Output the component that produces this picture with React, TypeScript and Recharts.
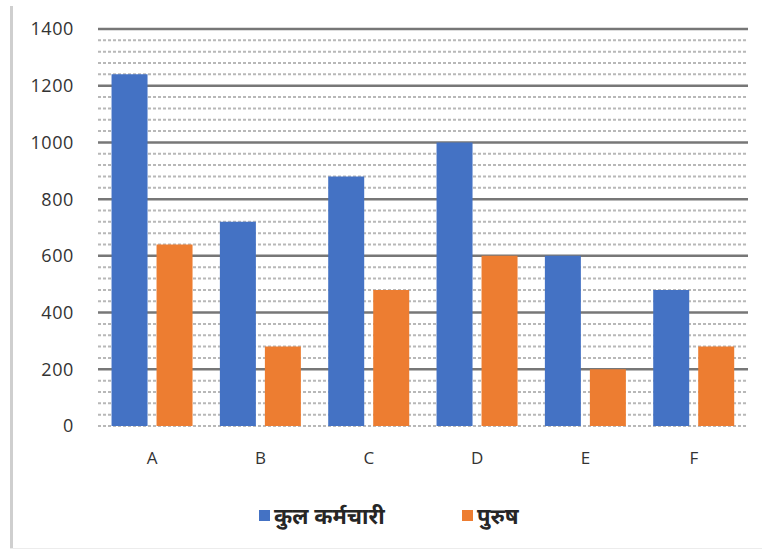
import React from 'react';
import { BarChart, Bar, XAxis, YAxis, CartesianGrid, Legend } from 'recharts';

const categories = ['A', 'B', 'C', 'D', 'E', 'F'];
const totalEmployees = [1240, 720, 880, 1000, 600, 480];
const men = [640, 280, 480, 600, 200, 280];
const yDomain = [0, 1400];
const yTicks = [0, 200, 400, 600, 800, 1000, 1200, 1400];
const majorGridTicks = [200, 400, 600, 800, 1000, 1200, 1400];
const minorGridTicks = [
  0, 40, 80, 120, 160, 240, 280, 320, 360, 440, 480, 520, 560, 640, 680, 720, 760,
  840, 880, 920, 960, 1040, 1080, 1120, 1160, 1240, 1280, 1320, 1360,
];

const data = categories.map((name, i) => ({
  name,
  total: totalEmployees[i],
  men: men[i],
}));

const BLUE = '#4472C4';
const ORANGE = '#ED7D31';

const legendItems = [
  { label: 'कुल कर्मचारी', color: BLUE, width: 203 },
  { label: 'पुरुष', color: ORANGE, width: 80 },
];

const renderLegend = () => (
  <div style={{ display: 'flex', paddingLeft: 259, paddingTop: 34 }}>
    {legendItems.map((item) => (
      <div key={item.label} style={{ display: 'flex', alignItems: 'center', width: item.width }}>
        <span style={{ width: 11, height: 11, background: item.color, marginRight: 4 }} />
        <span
          style={{
            fontFamily: '"Noto Sans", sans-serif',
            fontSize: 22,
            fontWeight: 700,
            color: '#262626',
          }}
        >
          {item.label}
        </span>
      </div>
    ))}
  </div>
);

const yTickStyle = { fill: '#333', fontSize: 18, letterSpacing: 0.6, fontFamily: '"Open Sans", sans-serif' };
const xTickStyle = { fill: '#333', fontSize: 17, fontFamily: '"Open Sans", sans-serif' };

// map grid values onto the plot area of the value axis
const gridFrom = (values: number[]) => (props: any) => {
  const scale = props?.yAxis?.scale;
  if (typeof scale === 'function') return values.map((v) => scale(v));
  if (scale && typeof scale.map === 'function') return values.map((v) => scale.map(v));
  const { top, height } = props.offset;
  const [lo, hi] = yDomain;
  return values.map((v) => top + height * (1 - (v - lo) / (hi - lo)));
};

export default function App() {
  return (
    <div style={{ position: 'absolute', left: 0, top: 0, width: 762, height: 550, background: '#fff' }}>
      <div
        style={{
          position: 'absolute',
          left: 10,
          top: 6,
          width: 3,
          height: 543,
          background: '#cfcfcf',
        }}
      />
      <div style={{ position: 'absolute', left: 10, top: 548, width: 752, height: 1, background: '#ececec' }} />
      <BarChart
        width={762}
        height={550}
        data={data}
        margin={{ top: 29, right: 14, left: 0, bottom: 0 }}
        barCategoryGap="12.5%"
        barGap={9}
      >
        <CartesianGrid
          vertical={false}
          stroke="#b8b8b8"
          strokeWidth={2}
          strokeDasharray="3 2"
          horizontalCoordinatesGenerator={gridFrom(minorGridTicks)}
        />
        <CartesianGrid
          vertical={false}
          stroke="#777"
          strokeWidth={2.5}
          horizontalCoordinatesGenerator={gridFrom(majorGridTicks)}
        />
        <XAxis
          dataKey="name"
          axisLine={false}
          tickLine={false}
          tickSize={0}
          tickMargin={26}
          height={40}
          tick={xTickStyle}
        />
        <YAxis
          domain={yDomain}
          ticks={yTicks}
          axisLine={false}
          tickLine={false}
          tickSize={0}
          tickMargin={24}
          width={98}
          tick={yTickStyle}
        />
        <Legend verticalAlign="bottom" height={84} content={renderLegend} />
        <Bar dataKey="total" name="कुल कर्मचारी" fill={BLUE} isAnimationActive={false} />
        <Bar dataKey="men" name="पुरुष" fill={ORANGE} isAnimationActive={false} />
      </BarChart>
    </div>
  );
}
